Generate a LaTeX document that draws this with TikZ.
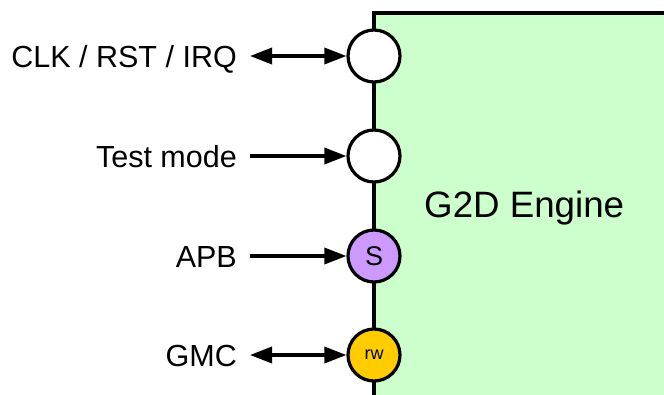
\documentclass[tikz,border=0pt]{standalone}
\usepackage{fontspec}
\setmainfont{Liberation Sans}
\usetikzlibrary{arrows.meta}
\definecolor{enggreen}{HTML}{CCFFCC}
\definecolor{portpurple}{HTML}{CC99FF}
\definecolor{portyellow}{HTML}{FFCC00}
\tikzset{
  port/.style={circle, draw=black, line width=3.2pt, minimum size=52pt, inner sep=0pt, fill=white},
  lbl/.style={font=\fontsize{30.5}{34}\selectfont, inner sep=0pt, anchor=base east},
  sig/.style={line width=3.5pt, -{Triangle[length=22pt,width=16pt]}},
  bisig/.style={line width=3.5pt, {Triangle[length=22pt,width=16pt]}-{Triangle[length=22pt,width=16pt]}, shorten <=13pt},
  onesig/.style={sig, shorten <=13pt},
}
\begin{document}
\begin{tikzpicture}[x=1pt,y=-1pt]
\useasboundingbox (0,0) rectangle (664,394);
\clip (0,0) rectangle (664,394);
\draw[line width=3.2pt, fill=enggreen] (374,13) rectangle (720,430);
\node[font=\fontsize{36.7}{40}\selectfont, inner sep=0pt, anchor=base west] (title) at (424,217) {G2D Engine};
\node[port] (clk) at (374,56) {};
\node[port] (test) at (374,156) {};
\node[port, fill=portpurple, font=\fontsize{27}{30}\selectfont] (apb) at (374,256) {S};
\node[port, fill=portyellow, font=\fontsize{18}{20}\selectfont] (gmc) at (374,355) {rw};
\node[lbl] (lclk) at (237,67) {CLK / RST / IRQ};
\node[lbl] (ltest) at (237,167) {Test mode};
\node[lbl] (lapb) at (237,267) {APB};
\node[lbl] (lgmc) at (237,366) {GMC};
\draw[bisig] (lclk.east |- clk) -- (clk);
\draw[onesig] (ltest.east |- test) -- (test);
\draw[onesig] (lapb.east |- apb) -- (apb);
\draw[bisig] (lgmc.east |- gmc) -- (gmc);
\end{tikzpicture}
\end{document}
